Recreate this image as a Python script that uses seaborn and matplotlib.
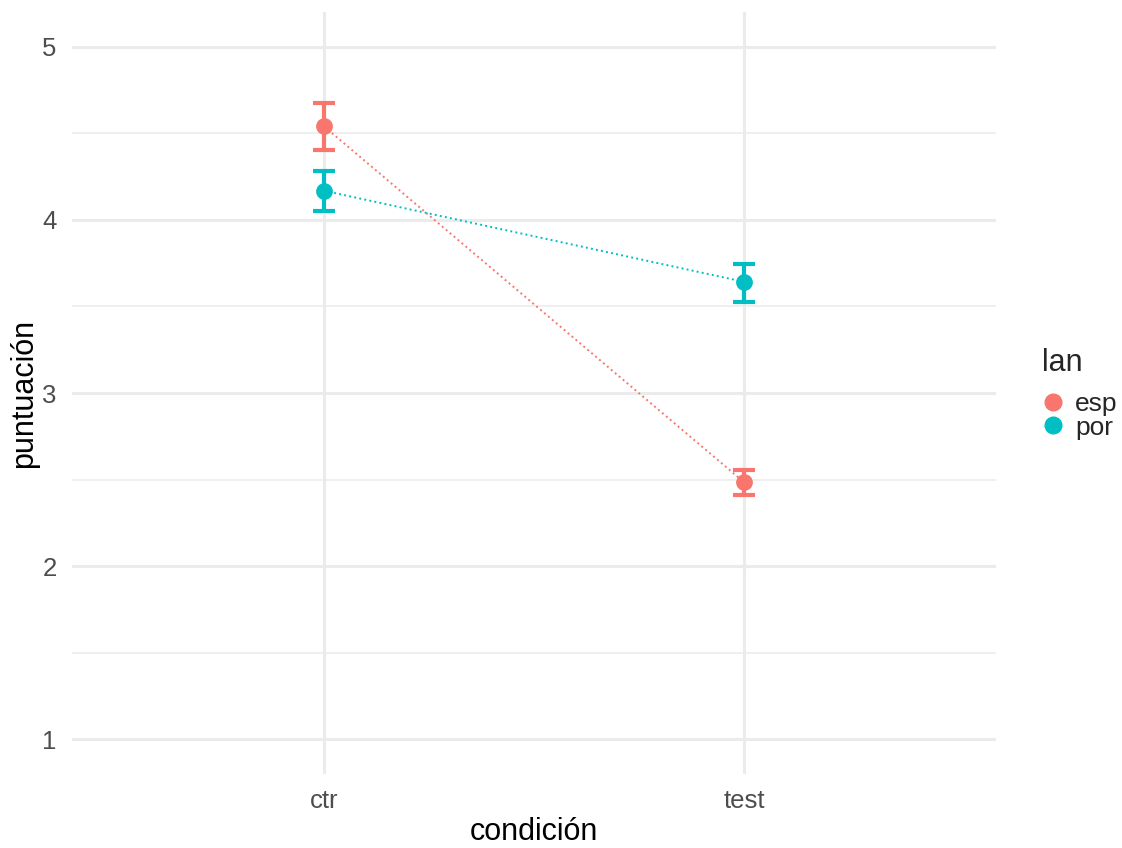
import pandas as pd
import matplotlib.pyplot as plt
import seaborn as sns
from matplotlib.lines import Line2D

# valores
condicion = ["ctr", "test", "ctr", "test"]
lan = ["esp", "esp", "por", "por"]
media = [4.54, 2.485, 4.168, 3.642]
sup = [4.676, 2.555, 4.283, 3.746]
inf = [4.405, 2.41, 4.052, 3.526]

niveles = ["esp", "por"]
colores = {"esp": "#F8766D", "por": "#00BFC4"}

df = pd.DataFrame({"condicion": condicion, "lan": lan, "media": media,
                   "sup": sup, "inf": inf})

sns.set_theme(style="white")
plt.rcParams['font.family'] = ['Liberation Sans', 'DejaVu Sans']

fig = plt.figure(figsize=(11.22, 8.48), dpi=100)
ax = fig.add_axes([72/1122, 1 - 774/848, (996-72)/1122, (774-12)/848])

# rejilla estilo theme_minimal
for y in [1.5, 2.5, 3.5, 4.5]:
    ax.axhline(y, color="#EBEBEB", lw=1.1, zorder=0)
for y in [1, 2, 3, 4, 5]:
    ax.axhline(y, color="#EBEBEB", lw=2.2, zorder=0)
for x in [0, 1]:
    ax.axvline(x, color="#EBEBEB", lw=2.2, zorder=0)

sns.pointplot(data=df, x="condicion", y="media", hue="lan", order=["ctr", "test"],
              hue_order=niveles, palette=colores, linestyles=":", markers="o",
              errorbar=None, ax=ax, legend=False, markersize=11, linewidth=1.4, zorder=3)

pos = {"ctr": 0, "test": 1}
for _, r in df.iterrows():
    x = pos[r["condicion"]]
    ax.errorbar(x, r["media"], yerr=[[r["media"] - r["inf"]], [r["sup"] - r["media"]]],
                fmt="none", ecolor=colores[r["lan"]], elinewidth=3, capsize=8,
                capthick=3, zorder=4)

ax.set_xlim(-0.6, 1.6)
ax.set_ylim(0.8, 5.2)
ax.set_yticks([1, 2, 3, 4, 5])
ax.set_xlabel("condición", fontsize=22, color="black", labelpad=3)
ax.set_ylabel("puntuación", fontsize=22, color="black", labelpad=2)
ax.tick_params(axis="both", labelsize=18.5, labelcolor="#4D4D4D", length=0, pad=11)
for s in ax.spines.values():
    s.set_visible(False)

# leyenda a la derecha
fig.text(1042/1122, 1 - 363/848, "lan", fontsize=22, va="center", ha="left")
handles = [Line2D([], [], marker="o", ls="", color=colores[n], markersize=12)
           for n in niveles]
leg = fig.legend(handles, niveles, loc="center left",
                 bbox_to_anchor=(1040/1122, 1 - 416/848), frameon=False,
                 fontsize=19, handletextpad=0.34, borderpad=0, borderaxespad=0,
                 labelspacing=-0.03, handlelength=1.0)

fig.savefig("out.png", dpi=100)
